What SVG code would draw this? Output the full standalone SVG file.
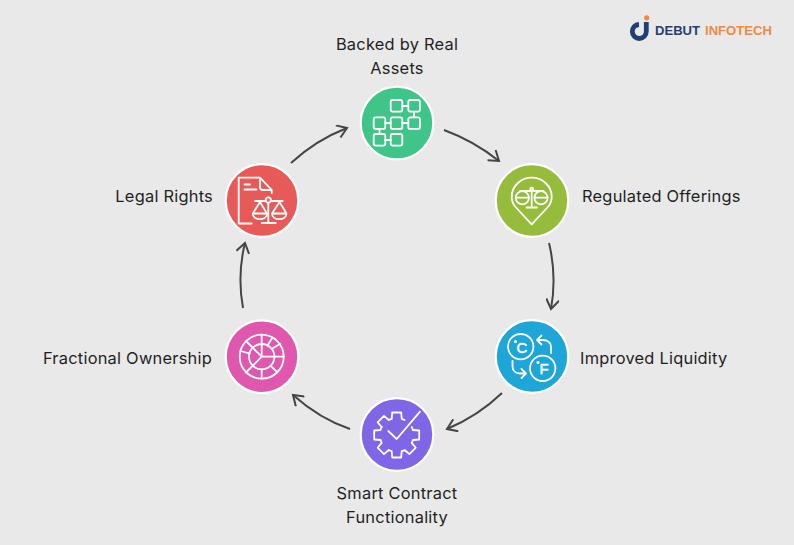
<svg xmlns="http://www.w3.org/2000/svg" xmlns:xlink="http://www.w3.org/1999/xlink" width="794" height="545" viewBox="0 0 794 545">
<style>
.bg{fill:#e9e9e9}
.disc{stroke:#fff;stroke-width:2.2}
.ic{fill:none;stroke:#fff;stroke-width:1.8;stroke-linecap:round;stroke-linejoin:round}
.lb{font-family:"Inter","Open Sans",sans-serif;font-size:16.4px;letter-spacing:.24px;fill:#1f1f1f}
.cn{fill:none;stroke:#454545;stroke-width:2;marker-end:url(#ah)}
.g{font-family:"Liberation Sans",sans-serif;font-size:15px;fill:#fff;stroke:#fff;stroke-width:.5}
.lg{font-family:"Liberation Sans",sans-serif;font-weight:bold;font-size:12.5px}
</style>
<defs>
<marker id="ah" viewBox="-11 -7 13 14" refX="0" refY="0" markerWidth="13" markerHeight="14" markerUnits="userSpaceOnUse" orient="auto">
<path d="M-9.5,-6.5L0,0L-9.5,6.5" fill="none" stroke="#454545" stroke-width="2"/>
</marker>
<path id="tooth" d="M-5,-16.2L-4.5,-22.5L4.5,-22.5L5,-16.2A17 17 0 0 1 7.9,-15"/>
</defs>
<rect class="bg" width="794" height="545"/>
<g id="connectors">
<path class="cn" d="M291,163Q316,140 347,128"/>
<path class="cn" d="M444,130Q474,141 499,161"/>
<path class="cn" d="M549,243Q557,276 551,309"/>
<path class="cn" d="M502,393Q478,416 447,429"/>
<path class="cn" d="M350,429Q320,419 293,395"/>
<path class="cn" d="M243,308Q237,275 245,243"/>
</g>
<g id="node-assets">
<circle class="disc" cx="397" cy="123" r="36.3" fill="#3fc588"/>
<g class="ic">
<rect x="390.7" y="100" width="11.6" height="11.6" rx="2"/><rect x="408.3" y="100" width="11.6" height="11.6" rx="2"/>
<rect x="373.7" y="117.3" width="11.6" height="11.6" rx="2"/><rect x="390.7" y="117.3" width="11.6" height="11.6" rx="2"/><rect x="408.3" y="117.3" width="11.6" height="11.6" rx="2"/>
<rect x="373.7" y="134" width="11.6" height="11.6" rx="2"/><rect x="390.7" y="134" width="11.6" height="11.6" rx="2"/>
<path d="M402.3,106H408.3M385.3,123H390.7M402.3,123H408.3M385.3,140H390.7M414,111.6V117.3M379.5,129V134"/>
</g>
<text class="lb" x="397" y="50" text-anchor="middle">Backed by Real</text>
<text class="lb" x="397" y="74" text-anchor="middle">Assets</text>
</g>
<g id="node-regulated">
<circle class="disc" cx="532" cy="200.5" r="36.3" fill="#95bd3b"/>
<g class="ic">
<path d="M531.7,224.3L516,207.5C512.8,204 511.7,200.5 511.7,197C511.7,186 520.7,177.7 531.7,177.7C542.7,177.7 551.7,186 551.7,197C551.7,200.5 550.6,204 547.4,207.5Z"/>
<circle cx="531.7" cy="189" r="1.4"/>
<path d="M520,191H543.5M531.7,191V207M526.5,207.5H537"/>
<circle cx="522.3" cy="197.7" r="6.6"/><circle cx="541" cy="197.7" r="6.6"/>
<path d="M516,197.7H528.6M534.7,197.7H547.3"/>
</g>
<text class="lb" x="582" y="202">Regulated Offerings</text>
</g>
<g id="node-liquidity">
<circle class="disc" cx="532" cy="356.5" r="36.3" fill="#1ea6d8"/>
<g class="ic">
<circle cx="520.7" cy="346.7" r="12.7"/><circle cx="542.7" cy="368.3" r="12.7"/>
<path d="M551,353V347.5C551,342 547,340 543,340H537M541.5,335.5L537,340L541.5,344.5"/>
<path d="M512.5,361V366C512.5,371 516,373.5 520,373.5H526M521.5,369L526,373.5L521.5,378"/>
<circle cx="515.5" cy="341.5" r="0.7"/><circle cx="538" cy="362.5" r="0.7"/>
</g>
<text class="g" x="516.5" y="352.5">C</text>
<text class="g" x="539.5" y="374">F</text>
<text class="lb" x="580" y="364">Improved Liquidity</text>
</g>
<g id="node-contract">
<circle class="disc" cx="397" cy="434.5" r="36.3" fill="#7e66e6"/>
<g class="ic" transform="translate(396.7,435)">
<use xlink:href="#tooth" transform="rotate(0)"/><use xlink:href="#tooth" transform="rotate(90)"/><use xlink:href="#tooth" transform="rotate(135)"/><use xlink:href="#tooth" transform="rotate(180)"/><use xlink:href="#tooth" transform="rotate(225)"/><use xlink:href="#tooth" transform="rotate(270)"/><use xlink:href="#tooth" transform="rotate(315)"/>
<path d="M15,-8A17 17 0 0 1 16.2,-5"/>
<path d="M-8.4,-4L0,4L23.3,-23.3"/>
</g>
<text class="lb" x="397" y="499" text-anchor="middle">Smart Contract</text>
<text class="lb" x="397" y="523" text-anchor="middle">Functionality</text>
</g>
<g id="node-fractional">
<circle class="disc" cx="262" cy="356.7" r="36.3" fill="#df58ae"/>
<g class="ic">
<circle cx="261.7" cy="356.7" r="22"/><circle cx="261.7" cy="356.7" r="12.7"/>
<path d="M261.7,356.7H283.7M261.7,356.7V334.7M261.7,356.7L252.5,347.5M261.7,356.7L246,372.5"/>
<path d="M261.7,369.4V378.7M270.6,365.6L277.3,372.3M267.5,345.5L272.5,337.5M271.5,349L280,344M249.5,353.5L240.5,351M252.5,347.5L246,341"/>
</g>
<text class="lb" x="212" y="364" text-anchor="end">Fractional Ownership</text>
</g>
<g id="node-legal">
<circle class="disc" cx="262" cy="200.5" r="36.3" fill="#e85a57"/>
<g class="ic">
<path d="M251.7,223.5H238.7V177.7H260L271.7,190V193M260,177.7V187C260,189 261,190 263,190H271.7"/>
<path d="M244.5,184.5H250M244.5,189.5H256.5"/>
<circle cx="268.3" cy="200" r="2.6"/>
<path d="M255,201H265.7M270.9,201H282.7M268.3,202.7V222M261.7,223H275.7"/>
<path d="M260,202L252.7,213.5M260,202L267,213.5M252.7,213.5H267C267,221 252.7,221 252.7,213.5Z"/>
<path d="M279.5,202L272,213.5M279.5,202L286.5,213.5M272,213.5H286.5C286.5,221 272,221 272,213.5Z"/>
</g>
<text class="lb" x="213" y="202" text-anchor="end">Legal Rights</text>
</g>
<g id="logo">
<path d="M639,24.5A7 7 0 1 0 646.3,31.5V22" fill="none" stroke="#1f3f75" stroke-width="4.8"/>
<circle cx="646.7" cy="17.8" r="2.6" fill="#f08a45"/>
<text class="lg" x="655" y="35" fill="#1f3f75" textLength="45" lengthAdjust="spacingAndGlyphs">DEBUT</text>
<text class="lg" x="705" y="35" fill="#f08a45" textLength="67" lengthAdjust="spacingAndGlyphs">INFOTECH</text>
</g>
</svg>
